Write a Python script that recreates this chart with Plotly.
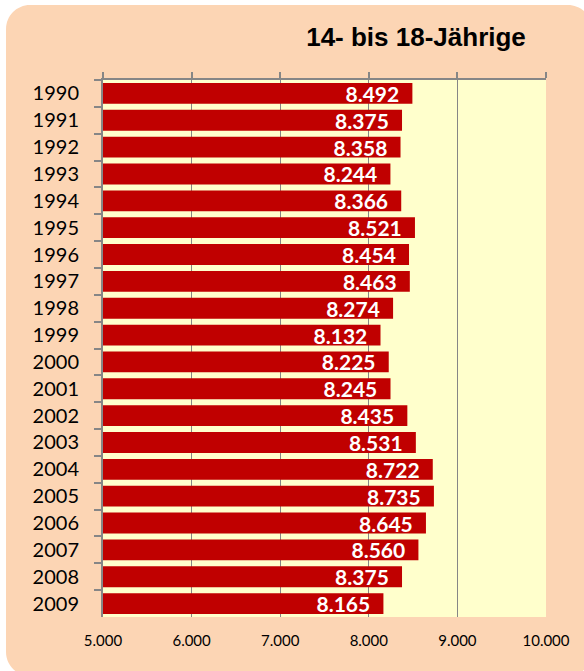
import plotly.graph_objects as go

years = [str(y) for y in range(1990, 2010)]
values = [8492, 8375, 8358, 8244, 8366, 8521, 8454, 8463, 8274, 8132,
          8225, 8245, 8435, 8531, 8722, 8735, 8645, 8560, 8375, 8165]
x_ticks = [5000, 6000, 7000, 8000, 9000, 10000]
title = "14- bis 18-Jährige"

def de_fmt(v):
    return f"{v:,d}".replace(",", ".")

labels = [de_fmt(v) + "\u00a0\u00a0" for v in values]

W, H = 584, 671
L, R, T, B = 103, 546, 80, 617

def px(x):
    return (x - L) / (R - L)

def py(y):
    return (B - y) / (B - T)

def rounded_path(x0, y0, x1, y1, r):
    k = 0.5523 * r
    pts = []
    pts.append(f"M {px(x0 + r)} {py(y0)}")
    pts.append(f"L {px(x1 - r)} {py(y0)}")
    pts.append(f"C {px(x1 - r + k)} {py(y0)} {px(x1)} {py(y0 + r - k)} {px(x1)} {py(y0 + r)}")
    pts.append(f"L {px(x1)} {py(y1 - r)}")
    pts.append(f"C {px(x1)} {py(y1 - r + k)} {px(x1 - r + k)} {py(y1)} {px(x1 - r)} {py(y1)}")
    pts.append(f"L {px(x0 + r)} {py(y1)}")
    pts.append(f"C {px(x0 + r - k)} {py(y1)} {px(x0)} {py(y1 - r + k)} {px(x0)} {py(y1 - r)}")
    pts.append(f"L {px(x0)} {py(y0 + r)}")
    pts.append(f"C {px(x0)} {py(y0 + r - k)} {px(x0 + r - k)} {py(y0)} {px(x0 + r)} {py(y0)}")
    pts.append("Z")
    return " ".join(pts)

fig = go.Figure()
fig.add_trace(go.Bar(
    x=values, y=years, orientation="h",
    marker=dict(color="#C00000", line=dict(width=0)),
    text=labels, textposition="inside", insidetextanchor="end",
    constraintext="none",
    textfont=dict(family="Lato", size=21, color="white", weight="bold"),
    hoverinfo="skip", showlegend=False,
))
fig.add_trace(go.Scatter(
    x=values, y=years, xaxis="x2", mode="markers",
    marker=dict(opacity=0), hoverinfo="skip", showlegend=False,
))

grey = "#868686"
fig.update_layout(
    width=W, height=H,
    margin=dict(l=L, r=W - R, t=T, b=H - B, autoexpand=False),
    paper_bgcolor="white",
    plot_bgcolor="rgba(0,0,0,0)",
    separators=",.",
    bargap=0.225,
    title=dict(text=title, x=416 / W, y=1 - 37 / H, xref="container", yref="container",
               xanchor="center", yanchor="middle",
               font=dict(family="Liberation Sans", size=26, color="black", weight="bold")),
    xaxis=dict(range=[5000, 10000], tickvals=x_ticks, tickformat=",d",
               showgrid=True, gridcolor=grey, gridwidth=1, zeroline=False,
               showline=False, ticks="outside", ticklen=10, tickcolor="rgba(0,0,0,0)",
               tickfont=dict(family="Lato", size=15, color="black"), fixedrange=True,
               automargin=False),
    xaxis2=dict(range=[5000, 10000], tickvals=x_ticks, overlaying="x", side="top",
                showgrid=False, zeroline=False, showline=True, linecolor=grey, linewidth=1.5,
                ticks="outside", ticklen=6, tickwidth=1.5, tickcolor=grey, showticklabels=False,
                automargin=False),
    yaxis=dict(type="category", range=[19.5, -0.5], showline=True, linecolor=grey,
               linewidth=2, ticks="outside", tickson="boundaries", ticklen=7, tickwidth=2,
               tickcolor=grey, showgrid=False, ticklabelstandoff=18, automargin=False,
               tickfont=dict(family="Lato", size=20, color="black")),
    shapes=[
        dict(type="path", xref="paper", yref="paper", path=rounded_path(6, 5, 592, 676, 24),
             fillcolor="#FCD5B4", line=dict(width=0), layer="below"),
        dict(type="rect", xref="paper", yref="paper", x0=0, x1=1, y0=0, y1=1,
             fillcolor="#FFFFCC", line=dict(width=0), layer="below"),
    ],
)

fig.write_html("out.html", config={"displayModeBar": False},
               post_script="document.body.style.margin='0';")
